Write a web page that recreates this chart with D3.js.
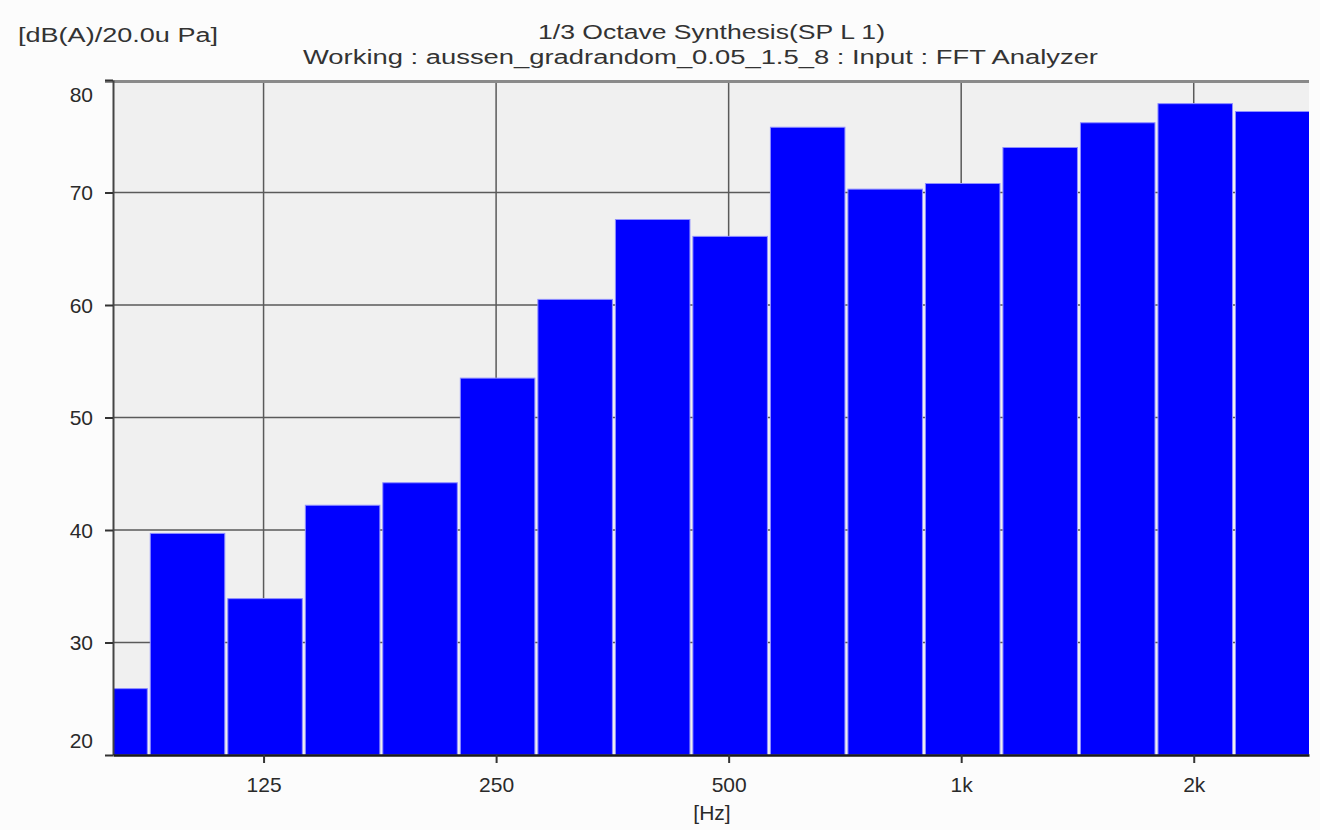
<!DOCTYPE html>
<html>
<head>
<meta charset="utf-8">
<script src="https://cdn.jsdelivr.net/npm/d3@7"></script>
<style>
  body { margin: 0; background: #fcfcfc; }
  svg { font-family: 'Liberation Sans', Arial, sans-serif; }
</style>
</head>
<body>
<div class="chart"></div>
<script>
// 1/3 octave band centres (Hz, exact base-2 values) and levels in dB(A)
const bandLabels = ['80', '100', '125', '160', '200', '250', '315', '400', '500', '630', '800', '1k', '1.25k', '1.6k', '2k', '2.5k'];
const bandCenters = [78.75, 99.21, 125, 157.5, 198.4, 250, 315, 396.9, 500, 630, 793.7, 1000, 1259.9, 1587.4, 2000, 2519.8];
const levels = [25.9, 39.7, 33.9, 42.2, 44.2, 53.5, 60.5, 67.6, 66.1, 75.8, 70.3, 70.8, 74.0, 76.2, 77.9, 77.2];

const xTickValues = [125, 250, 500, 1000, 2000];
const xTickLabels = ['125', '250', '500', '1k', '2k'];
const yTickValues = [20, 30, 40, 50, 60, 70, 80];

const titleLine1 = '1/3 Octave Synthesis(SP L 1)';
const titleLine2 = 'Working : aussen_gradrandom_0.05_1.5_8 : Input : FFT Analyzer';
const yUnit = '[dB(A)/20.0u Pa]';
const xUnit = '[Hz]';

const width = 1320;
const height = 830;
const plot = { left: 113, right: 1309, top: 80, bottom: 755 };

const svg = d3.select('.chart')
  .append('svg')
  .attr('width', width)
  .attr('height', height);

const xscale = d3.scaleLog()
  .domain([79.8, 2820])
  .range([plot.left, plot.right]);

const yscale = d3.scaleLinear()
  .domain([20, 80])
  .range([plot.bottom, plot.top]);

// plot background
svg.append('rect')
  .attr('x', plot.left)
  .attr('y', plot.top)
  .attr('width', plot.right - plot.left)
  .attr('height', plot.bottom - plot.top)
  .attr('fill', '#f0f0f0');

// grid
svg.append('g')
  .selectAll('line')
  .data(yTickValues.slice(1, -1))
  .enter()
  .append('line')
  .attr('x1', plot.left)
  .attr('x2', plot.right)
  .attr('y1', d => yscale(d))
  .attr('y2', d => yscale(d))
  .attr('stroke', '#5a5a5a')
  .attr('stroke-width', 1.5);

svg.append('g')
  .selectAll('line')
  .data(xTickValues)
  .enter()
  .append('line')
  .attr('x1', d => xscale(d))
  .attr('x2', d => xscale(d))
  .attr('y1', plot.top)
  .attr('y2', plot.bottom)
  .attr('stroke', '#5a5a5a')
  .attr('stroke-width', 1.5);

svg.append('clipPath')
  .attr('id', 'plot-clip')
  .append('rect')
  .attr('x', plot.left)
  .attr('y', plot.top)
  .attr('width', plot.right - plot.left)
  .attr('height', plot.bottom - plot.top);

// bars: each spans its 1/3 octave band
const third = Math.pow(2, 1 / 6);
const bars = bandCenters.map((f, i) => ({ f: f, label: bandLabels[i], y: levels[i] }));
svg.append('g')
  .attr('clip-path', 'url(#plot-clip)')
  .selectAll('rect')
  .data(bars)
  .enter()
  .append('rect')
  .attr('x', d => xscale(d.f / third) + 3)
  .attr('y', d => yscale(d.y))
  .attr('width', d => xscale(d.f * third) - xscale(d.f / third) - 3)
  .attr('height', d => plot.bottom - yscale(d.y))
  .attr('fill', '#0000ff')
  .attr('stroke', '#8f8fff')
  .attr('stroke-width', 1);

// frame: top border, left axis, bottom axis
svg.append('line')
  .attr('x1', plot.left - 8)
  .attr('x2', plot.right)
  .attr('y1', plot.top + 1.5)
  .attr('y2', plot.top + 1.5)
  .attr('stroke', '#8a8a8a')
  .attr('stroke-width', 3);

const x_axis = d3.axisBottom(xscale)
  .tickValues(xTickValues)
  .tickFormat((d, i) => xTickLabels[i])
  .tickSizeInner(8)
  .tickSizeOuter(0)
  .tickPadding(14);

const y_axis = d3.axisLeft(yscale)
  .tickValues(yTickValues)
  .tickSizeInner(8)
  .tickSizeOuter(0)
  .tickPadding(12);

const gy = svg.append('g')
  .attr('transform', 'translate(' + plot.left + ', 0)')
  .call(y_axis);
gy.select('.domain').attr('stroke', '#444').attr('stroke-width', 2);
gy.selectAll('.tick line').attr('stroke', '#333').attr('stroke-width', 2);
gy.selectAll('.tick text')
  .attr('font-size', 21)
  .attr('fill', '#2a2a2a')
  .attr('dy', d => (d === 80 ? '1.0em' : d === 20 ? '-0.35em' : '0.35em'));

const gx = svg.append('g')
  .attr('transform', 'translate(0, ' + plot.bottom + ')')
  .call(x_axis);
gx.select('.domain').attr('stroke', '#1a1a1a').attr('stroke-width', 2.5);
gx.selectAll('.tick line').attr('stroke', '#333').attr('stroke-width', 2);
gx.selectAll('.tick text')
  .attr('font-size', 21)
  .attr('fill', '#2a2a2a');

// texts
svg.append('text')
  .attr('x', 538)
  .attr('y', 39)
  .attr('textLength', 347)
  .attr('lengthAdjust', 'spacingAndGlyphs')
  .attr('font-size', 20)
  .attr('fill', '#333')
  .text(titleLine1);

svg.append('text')
  .attr('x', 303)
  .attr('y', 64)
  .attr('textLength', 795)
  .attr('lengthAdjust', 'spacingAndGlyphs')
  .attr('font-size', 20)
  .attr('fill', '#333')
  .text(titleLine2);

svg.append('text')
  .attr('x', 18)
  .attr('y', 42)
  .attr('textLength', 200)
  .attr('lengthAdjust', 'spacingAndGlyphs')
  .attr('font-size', 20)
  .attr('fill', '#333')
  .text(yUnit);

svg.append('text')
  .attr('x', 712)
  .attr('y', 820)
  .attr('text-anchor', 'middle')
  .attr('font-size', 21)
  .attr('fill', '#2a2a2a')
  .text(xUnit);
</script>
</body>
</html>
